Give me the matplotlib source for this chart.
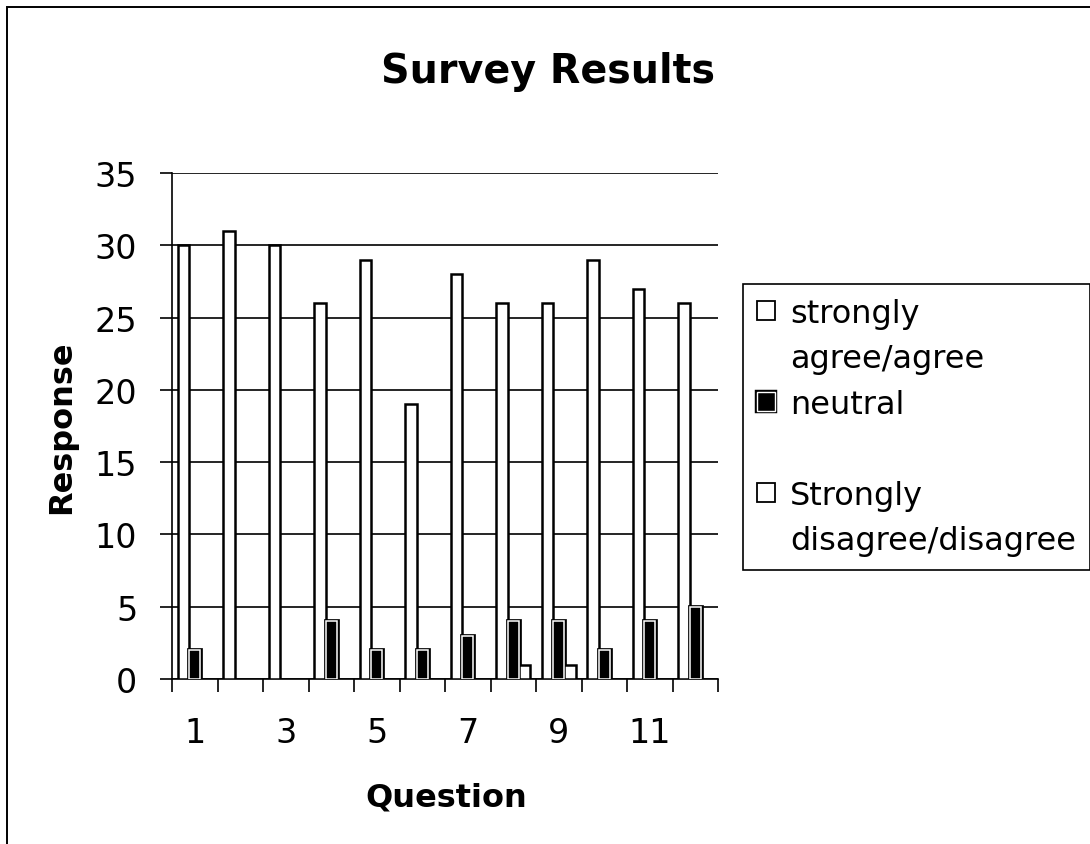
import numpy as np
import matplotlib
matplotlib.use("Agg")
import matplotlib.pyplot as plt
from matplotlib.patches import Rectangle
from matplotlib.legend_handler import HandlerTuple

# the scanned Arial text is stretched sideways, DejaVu Sans fits its widths best
plt.rcParams['font.family'] = ['DejaVu Sans']

questions = ["1", "2", "3", "4", "5", "6", "7", "8", "9", "10", "11", "12"]
agree = [30, 31, 30, 26, 29, 19, 28, 26, 26, 29, 27, 26]
neutral = [2, 0, 0, 4, 2, 2, 3, 4, 4, 2, 4, 5]
disagree = [0, 0, 0, 0, 0, 0, 0, 1, 1, 0, 0, 0]
yticks = [0, 5, 10, 15, 20, 25, 30, 35]

W, H = 1090, 845
fig = plt.figure(figsize=(W / 100, H / 100), dpi=100)
ax = fig.add_axes([172 / W, 1 - 680 / H, (718 - 172) / W, (680 - 174) / H])

x = np.arange(len(questions))
bw = 0.25
lw_bar = 1.8


def nonzero(vals):
    v = np.array(vals)
    return v > 0, v


m, v = nonzero(agree)
ax.bar(x[m] - bw, v[m], bw, facecolor='white', edgecolor='black', linewidth=lw_bar, zorder=3)
m, v = nonzero(neutral)
# neutral: black fill, black outline with a thin white ring inside
ax.bar(x[m], v[m], bw, facecolor='black', edgecolor='black', linewidth=3.4, zorder=3)
ax.bar(x[m], v[m], bw, facecolor='none', edgecolor='white', linewidth=1.1, zorder=4)
m, v = nonzero(disagree)
ax.bar(x[m] + bw, v[m], bw, facecolor='white', edgecolor='black', linewidth=lw_bar, zorder=3)

ax.set_xlim(-0.5, len(questions) - 0.5)
ax.set_ylim(0, 35)
ax.set_yticks(yticks)
ax.yaxis.grid(True, color='black', linewidth=1.2, zorder=0)
ax.set_axisbelow(True)

# tick marks between categories, labels on every other question
ax.set_xticks(np.arange(-0.5, len(questions), 1))
ax.set_xticklabels([])
ax.set_xticks(x[::2], minor=True)
ax.set_xticklabels(questions[::2], minor=True)
ax.tick_params(axis='x', which='major', direction='out', length=9, width=1.2, color='black')
ax.tick_params(axis='x', which='minor', length=0, pad=27, labelsize=24)
ax.tick_params(axis='y', direction='out', length=9, width=1.2, pad=16, labelsize=24)

for s in ['top', 'right']:
    ax.spines[s].set_visible(False)
for s in ['left', 'bottom']:
    ax.spines[s].set_color('black')
    ax.spines[s].set_linewidth(1.2)

fig.text(446 / W, 1 - 783 / H, "Question", fontsize=23, fontweight='bold',
         ha='center', va='top')
fig.text(62 / W, 1 - 427 / H, "Response", fontsize=23, fontweight='bold',
         rotation=90, ha='center', va='center')
fig.text(548 / W, 1 - 83 / H, "Survey Results", fontsize=28.5, fontweight='bold',
         ha='center', va='baseline')

# legend: one row per text line
h_agree = Rectangle((0, 0), 1, 1, facecolor='white', edgecolor='black', linewidth=1.3)
h_neu = (Rectangle((0, 0), 1, 1, facecolor='black', edgecolor='black', linewidth=3.2),
         Rectangle((0, 0), 1, 1, facecolor='none', edgecolor='white', linewidth=1.0))
h_dis = Rectangle((0, 0), 1, 1, facecolor='white', edgecolor='black', linewidth=1.3)
h_none = Rectangle((0, 0), 1, 1, facecolor='none', edgecolor='none')
handles = [h_agree, h_none, h_neu, h_none, h_dis, h_none]
labels = ["strongly", "agree/agree", "neutral", " ", "Strongly", "disagree/disagree"]
leg = fig.legend(handles, labels, loc='upper left',
                 bbox_to_anchor=(743 / W, 1 - 285 / H),
                 fontsize=23, frameon=True, fancybox=False, framealpha=1,
                 edgecolor='black', handlelength=0.56, handleheight=0.56,
                 handletextpad=0.47, labelspacing=0.45, borderpad=0.44,
                 borderaxespad=0,
                 handler_map={tuple: HandlerTuple(ndivide=1)})
leg.get_frame().set_linewidth(1.2)

# outer chart border (right and bottom edges fall outside the picture)
fig.add_artist(Rectangle((7 / W, -0.1), 1.2, 1.1 - 8 / H, transform=fig.transFigure,
                         facecolor='none', edgecolor='black', linewidth=1.4, clip_on=False))

fig.savefig("out.png", dpi=100)
